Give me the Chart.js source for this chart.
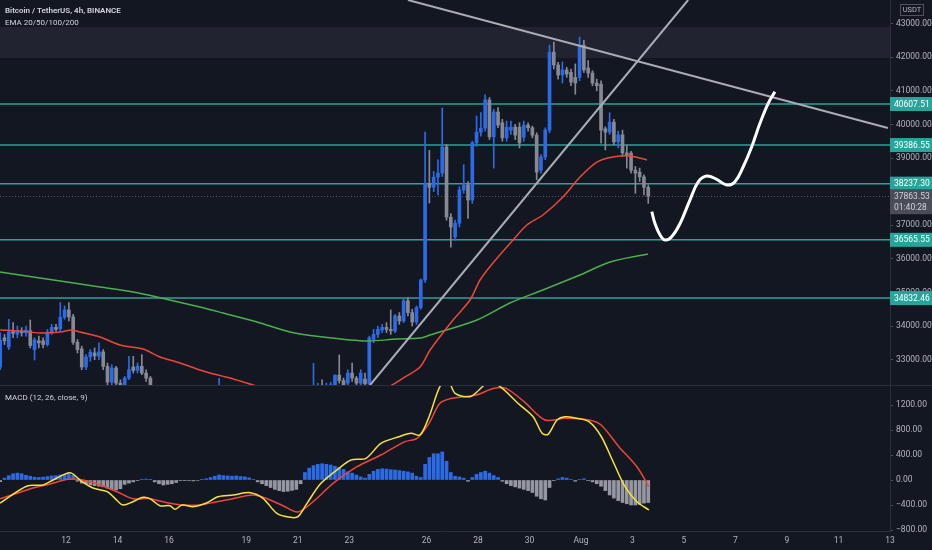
<!DOCTYPE html>
<html>
<head>
<meta charset="utf-8">
<script src="https://cdn.jsdelivr.net/npm/chart.js@4.4.0/dist/chart.umd.min.js"></script>
<style>
  html, body { margin: 0; padding: 0; background: #131722; }
  #wrap { position: relative; width: 932px; height: 550px; overflow: hidden; background: #131722;
          font-family: Roboto, "Open Sans", sans-serif; }
  canvas { position: absolute; left: 0; }
  #priceChart { top: 0; }
  #macdChart { top: 386px; }
  .sep { position: absolute; left: 0; top: 385px; width: 932px; height: 1px; background: #2a2e39; }
  .lbl { position: absolute; left: 5px; color: #d1d4dc; font-size: 8px; white-space: nowrap; line-height: 10px; }
</style>
</head>
<body>
<div id="wrap">
  <canvas id="priceChart" width="932" height="385"></canvas>
  <div class="sep"></div>
  <canvas id="macdChart" width="932" height="164"></canvas>
  <div class="lbl" style="top:6px;font-weight:600">Bitcoin / TetherUS, 4h, BINANCE</div>
  <div class="lbl" style="top:18px">EMA 20/50/100/200</div>
  <div class="lbl" style="top:393px">MACD (12, 26, close, 9)</div>
</div>
<script>
// 4h candles, first one at Jul 9 ~10:40 (x axis is "day of July", Aug 1 = 32)
var firstCandle = 9.445;
// [open, high, low, close]
var ohlc = [
  [32780,33800,32700,33580],[33650,33750,33450,33560],[33370,34200,33300,33820],[33850,34100,33650,33780],
  [33760,34000,33650,33850],[33850,33950,33700,33800],[33800,34000,33700,33880],[33860,34180,33350,33420],
  [33300,33650,32990,33590],[33560,33700,33350,33500],[33560,33650,33350,33450],[33450,33900,33400,33820],
  [33830,34050,33750,33960],[33960,34050,33850,33900],[33920,34700,33850,34260],[34260,34600,34200,34480],
  [34480,34700,34150,34270],[34270,34350,33450,33520],[33520,33600,33200,33300],[33320,33400,32700,32780],
  [32780,33150,32700,33080],[33080,33300,32950,33220],[33200,33350,33000,33110],[33100,33500,33000,33230],
  [33230,33300,32700,32800],[32800,32900,32200,32330],[32330,32850,32250,32750],[32750,32800,32150,32300],
  [32300,32400,31950,32100],[32050,32500,31950,32450],[32450,33100,32400,32700],[32780,33100,32600,32680],
  [32680,32900,32600,32800],[32800,33150,32550,32600],[32600,32700,32350,32450],[32450,32500,31950,32100],
  [32100,32200,31800,31900],[31900,32000,31600,31700],[31700,31950,31550,31800],[31800,31900,31450,31600],
  [31600,32050,31500,31750],[31750,32100,31650,31900],[31900,32000,31550,31700],[31700,31800,31200,31400],
  [31400,31650,31300,31500],[31500,31800,31400,31650],[31650,31750,31250,31450],[31450,31600,31200,31500],
  [31500,31800,31400,31650],[31650,31900,31450,31600],[31600,31950,31500,31800],[31800,32440,31700,32050],
  [32050,32150,31750,31900],[31900,32000,31600,31750],[31750,32000,31650,31850],[31850,31950,31550,31700],
  [31700,31900,31550,31750],[31750,31800,31300,31500],[31500,31600,31150,31300],[31300,31400,30900,31050],
  [31050,31200,30700,30900],[30900,31100,30750,31000],[31000,31050,30600,30800],[30800,30900,30300,30500],
  [30500,30600,29900,30200],[30200,30300,29600,29900],[29900,30000,29400,29700],[29700,30000,29300,29850],
  [29850,30100,29600,29800],[29800,30500,29700,30300],[30300,31400,30200,31200],[31200,32000,31100,31800],
  [31800,32200,31600,32000],[32000,32890,31900,32100],[32100,32300,31900,32200],[32200,32400,31800,32050],
  [32050,32300,31900,32150],[32150,32330,31950,32250],[32250,32550,32050,32540],[32540,33140,32300,32380],
  [32380,32450,32100,32250],[32300,32700,32200,32600],[32600,32900,32350,32450],[32450,32500,32150,32300],
  [32300,32700,32200,32600],[32420,32600,32150,32280],[32280,33700,32200,33650],[33600,33900,33500,33750],
  [33750,34000,33650,33900],[33880,34050,33800,33960],[33960,34100,33800,33900],[33900,34480,33750,33860],
  [33850,34350,33800,34300],[34300,34400,34050,34150],[34150,34800,34100,34750],[34750,34850,34300,34400],
  [34400,34500,34000,34120],[34120,34600,34050,34550],[34550,35400,34500,35370],[35370,39770,35300,38250],
  [38250,39230,37660,38130],[38130,38600,38000,38430],[38430,38950,37900,38550],[38550,40490,38450,39330],
  [39330,39400,37150,37240],[37240,37350,36350,36950],[36650,37150,36550,37060],[37060,38150,36950,38050],
  [38050,38800,37950,38200],[38200,38300,37200,37750],[37750,39500,37650,39450],[39450,40250,39350,39770],
  [39770,40350,39650,39890],[39890,40880,39800,40730],[40730,40800,39550,39630],[39630,40450,38700,40370],
  [40370,40500,39900,39980],[40050,40150,39500,39600],[39600,40100,39500,39920],[39830,40100,39700,39920],
  [39920,40000,39550,39680],[39920,40050,39300,39450],[39620,40100,39500,39980],[39980,40050,39800,39900],
  [39900,39950,39600,39680],[39680,39750,38350,38580],[38640,39100,38550,39030],[39030,39900,38950,39830],
  [39830,42360,39750,42150],[42150,42450,41650,41770],[41770,41850,41350,41470],[41470,41860,41230,41620],
  [41620,41700,41400,41500],[41550,41650,41150,41260],[41400,41800,40900,41230],[41400,42600,41300,42360],
  [42360,42500,41550,41620],[41680,41900,41400,41530],[41530,41600,41150,41230],[41230,41350,41000,41150],
  [41200,41300,39440,39830],[39870,39930,39240,39770],[39770,40350,39700,40070],[40070,40150,39400,39480],
  [39480,39800,39300,39690],[39690,39830,39050,39150],[39150,39380,38700,39090],[39150,39200,38550,38640],
  [38640,38750,37950,38550],[38580,38700,38300,38440],[38440,38500,37900,38130],[38130,38200,37650,37864]
];

// MACD histogram, one value per candle
var histogram = [
  -27,30,70,100,110,100,75,60,45,40,45,55,65,70,80,90,100,75,-20,-50,
  -60,-80,-90,-100,-110,-130,-150,-160,-140,-70,-50,-30,-10,10,15,5,-30,-60,-80,-70,
  -60,-40,-10,-5,-10,-15,-8,5,20,40,60,80,70,65,60,65,55,50,35,10,
  -30,-60,-90,-120,-150,-170,-185,-180,-165,-150,-60,120,190,230,250,260,250,240,220,200,
  170,130,110,80,50,30,90,140,170,180,175,165,160,150,140,130,110,60,40,250,
  360,420,420,450,300,120,60,50,30,-20,40,90,120,140,110,70,40,-20,-60,-90,
  -110,-130,-150,-170,-200,-260,-300,-320,-120,-10,20,40,30,10,-20,10,20,-10,-30,-60,
  -100,-170,-240,-290,-330,-360,-380,-400,-400,-390,-370,-360
];

// [day, value] points
var emaRed = [[9.44,33882],[10.21,33852],[10.99,33793],[11.77,33822],[12.23,33882],[12.54,33822],[13.32,33674],
  [14.10,33436],[14.99,33316],[15.65,33078],[16.43,32900],[17.20,32691],[17.59,32602],[18.37,32453],[19.26,32245],
  [20.70,31950],[22.25,31900],[23.81,32050],[24.51,32186],[25.09,32453],[25.75,32780],[26.14,33286],[27.03,34179],
  [27.69,34774],[28.08,35370],[28.58,35875],[29.36,36560],[29.90,37006],[30.52,37304],[31.30,37840],[31.96,38435],
  [32.62,38881],[33.24,39030],[33.90,39060],[34.56,38941]];
var emaGreen = [[9.44,35608],[10.72,35459],[12.04,35310],[13.32,35161],[14.60,35012],[15.53,34864],[17.20,34566],
  [18.10,34388],[19.42,34120],[20.70,33822],[21.98,33674],[23.69,33554],[24.85,33614],[25.75,33644],[26.14,33733],
  [27.96,34179],[29.24,34685],[30.52,35072],[31.96,35519],[33.13,35905],[34.60,36143]];
var macdLine = [[9.44,-368],[10.49,-96],[11.11,-80],[11.50,0],[12.16,117],[12.62,-27],[13.05,-128],[13.60,-187],
  [13.90,-293],[14.21,-400],[14.60,-347],[14.99,-277],[15.26,-299],[15.65,-411],[16.04,-411],[16.23,-469],[16.51,-400],
  [16.93,-427],[17.48,-363],[17.90,-267],[18.49,-240],[19.15,-203],[19.65,-293],[20.19,-533],[20.70,-597],[21.01,-587],
  [21.36,-373],[21.90,-53],[22.60,187],[23.07,320],[23.65,347],[24.23,587],[24.93,693],[25.40,747],[25.75,720],
  [26.10,1013],[26.52,1493],[26.83,1600],[27.11,1387],[27.69,1333],[28.04,1440],[28.39,1560],[28.86,1493],[29.55,1227],
  [30.14,1013],[30.49,747],[30.72,730],[31.07,960],[31.38,1013],[31.84,987],[32.31,933],[32.78,700],[33.24,300],
  [33.71,-107],[34.17,-347],[34.64,-480]];
var signalLine = [[9.44,-299],[10.10,-213],[10.72,-128],[11.38,-64],[12.08,11],[12.66,0],[13.32,-80],[13.98,-187],
  [14.60,-299],[15.26,-299],[15.92,-363],[16.54,-400],[17.20,-400],[17.86,-347],[18.49,-299],[19.26,-240],[19.81,-299],
  [20.43,-411],[21.01,-512],[21.67,-320],[22.37,-53],[23.30,213],[24.23,400],[25.16,613],[25.63,667],[26.10,907],
  [26.52,1227],[26.99,1307],[27.92,1360],[28.62,1467],[29.09,1467],[29.79,1253],[30.60,960],[31.38,987],[32.31,960],
  [32.78,880],[33.47,533],[34.17,213],[34.64,-107]];

// drawings
var resistanceLine = [[25.28,43703],[43.92,39893]];
var supportLine = [[23.81,32245],[36.16,43703]];
var projection = [[34.75,37402],[34.87,37057],[35.07,36709],[35.26,36560],[35.52,36658],[35.85,37057],[36.23,37750],
  [36.56,38295],[36.88,38465],[37.27,38367],[37.66,38197],[37.98,38295],[38.30,38741],[38.63,39337],[38.95,40033],
  [39.27,40628],[39.53,40974]];
var levels = [40607.51, 39386.55, 38237.30, 36565.55, 34832.46];
var zone = [41976, 42900];
var lastPrice = 37863.53;
var countdown = '01:40:28';

var priceTicks = [33000,34000,35000,36000,37000,38000,39000,40000,41000,42000,43000];
var macdTicks = [-800,-400,0,400,800,1200];
var dateTicks = [12,14,16,19,21,23,26,28,30,32,34,36,38,40,42,44];
var dateLabels = ['12','14','16','19','21','23','26','28','30','Aug','3','5','7','9','11','13'];

var UP = '#2d6be6', DOWN = '#868993', TEAL = '#26a69a';
var FONT = 'Roboto, "Open Sans", sans-serif';
var xMin = 9.437, xMax = 44;

var candleTimes = ohlc.map(function (c, i) { return firstCandle + i / 6; });
var candleColors = ohlc.map(function (c) { return c[3] >= c[0] ? UP : DOWN; });
function pts(arr) { return arr.map(function (p) { return {x: p[0], y: p[1]}; }); }

function noPad(s) { s.paddingTop = 0; s.paddingBottom = 0; s.paddingLeft = 0; s.paddingRight = 0; }

function yAxis(min, max, tickValues, fmt) {
  return {
    position: 'right', min: min, max: max,
    afterBuildTicks: function (s) { s.ticks = tickValues.map(function (v) { return {value: v}; }); },
    afterFit: function (s) { s.width = 42; noPad(s); },
    ticks: {color: '#b2b5be', font: {family: FONT, size: 8.5}, padding: 3, autoSkip: false, callback: fmt},
    grid: {drawOnChartArea: false, drawTicks: true, tickLength: 3, color: '#50535e'},
    border: {display: true, color: '#2a2e39'}
  };
}

var pricePane = {
  id: 'pricePane',
  beforeDatasetsDraw: function (chart) {
    var ctx = chart.ctx, a = chart.chartArea, y = chart.scales.y;
    ctx.save();
    ctx.fillStyle = 'rgba(120,123,134,0.14)';
    var zt = y.getPixelForValue(zone[1]), zb = y.getPixelForValue(zone[0]);
    ctx.fillRect(a.left, zt, a.right - a.left, zb - zt);
    ctx.strokeStyle = TEAL;
    ctx.lineWidth = 1.5;
    levels.forEach(function (v) {
      var py = y.getPixelForValue(v);
      ctx.beginPath(); ctx.moveTo(a.left, py); ctx.lineTo(a.right, py); ctx.stroke();
    });
    ctx.setLineDash([1, 2]);
    ctx.lineWidth = 1;
    ctx.strokeStyle = 'rgba(134,137,147,0.55)';
    var lp = Math.round(y.getPixelForValue(lastPrice)) + 0.5;
    ctx.beginPath(); ctx.moveTo(a.left, lp); ctx.lineTo(a.right, lp); ctx.stroke();
    ctx.restore();
  },
  afterDraw: function (chart) {
    var ctx = chart.ctx, a = chart.chartArea, y = chart.scales.y;
    ctx.save();
    ctx.font = '8.5px ' + FONT;
    ctx.textBaseline = 'middle';
    levels.forEach(function (v) {
      var py = y.getPixelForValue(v);
      ctx.fillStyle = TEAL;
      ctx.fillRect(a.right, py - 7, 42, 14);
      ctx.fillStyle = '#ffffff';
      ctx.fillText(v.toFixed(2), a.right + 4, py + 0.5);
    });
    var lp = y.getPixelForValue(lastPrice);
    ctx.fillStyle = '#4a4d57';
    ctx.fillRect(a.right, lp - 7, 42, 25);
    ctx.fillStyle = '#d1d4dc';
    ctx.fillText(lastPrice.toFixed(2), a.right + 4, lp + 0.5);
    ctx.fillText(countdown, a.right + 4, lp + 11.5);
    ctx.strokeStyle = '#50535e';
    ctx.lineWidth = 1;
    ctx.strokeRect(a.right + 10.5, 4.5, 23, 11);
    ctx.font = '7.5px ' + FONT;
    ctx.textAlign = 'center';
    ctx.fillStyle = '#b2b5be';
    ctx.fillText('USDT', a.right + 22, 10.5);
    ctx.restore();
  }
};

new Chart(document.getElementById('priceChart'), {
  type: 'bar',
  data: {
    datasets: [
      {type: 'line', data: pts(projection), borderColor: '#ffffff', borderWidth: 3, pointRadius: 0,
       tension: 0.4, order: 0},
      {type: 'line', data: pts(resistanceLine), borderColor: '#a9acb5', borderWidth: 2, pointRadius: 0, order: 1},
      {type: 'line', data: pts(supportLine), borderColor: '#a9acb5', borderWidth: 2, pointRadius: 0, order: 1},
      {type: 'line', data: pts(emaRed), borderColor: '#f0453a', borderWidth: 1.5, pointRadius: 0,
       tension: 0.3, order: 2},
      {type: 'line', data: pts(emaGreen), borderColor: '#4caf50', borderWidth: 1.5, pointRadius: 0,
       tension: 0.3, order: 2},
      {data: ohlc.map(function (c, i) { return {x: candleTimes[i], y: [c[0], c[3]]}; }),
       backgroundColor: candleColors, barThickness: 3, minBarLength: 1, grouped: false, order: 3},
      {data: ohlc.map(function (c, i) { return {x: candleTimes[i], y: [c[2], c[1]]}; }),
       backgroundColor: candleColors, barThickness: 1, grouped: false, order: 4}
    ]
  },
  options: {
    responsive: false, animation: false, devicePixelRatio: 1,
    layout: {padding: 0},
    plugins: {legend: {display: false}, tooltip: {enabled: false}},
    scales: {
      x: {type: 'linear', min: xMin, max: xMax, offset: false, display: false},
      y: yAxis(32245, 43703, priceTicks, function (v) { return v.toFixed(2); })
    }
  },
  plugins: [pricePane]
});

new Chart(document.getElementById('macdChart'), {
  type: 'bar',
  data: {
    datasets: [
      {type: 'line', data: pts(macdLine), borderColor: '#f7e33d', borderWidth: 1.5, pointRadius: 0,
       tension: 0.3, order: 0},
      {type: 'line', data: pts(signalLine), borderColor: '#f0453a', borderWidth: 1.5, pointRadius: 0,
       tension: 0.3, order: 1},
      {data: histogram.map(function (v, i) { return {x: candleTimes[i], y: v}; }),
       backgroundColor: histogram.map(function (v) { return v >= 0 ? UP : '#9598a1'; }),
       barThickness: 3, grouped: false, order: 2}
    ]
  },
  options: {
    responsive: false, animation: false, devicePixelRatio: 1,
    layout: {padding: 0},
    plugins: {legend: {display: false}, tooltip: {enabled: false}},
    scales: {
      x: {
        type: 'linear', min: xMin, max: xMax, offset: false, position: 'bottom',
        afterBuildTicks: function (s) { s.ticks = dateTicks.map(function (v) { return {value: v}; }); },
        afterFit: function (s) { s.height = 19; noPad(s); },
        ticks: {color: '#b2b5be', font: {family: FONT, size: 8.5}, padding: 5, maxRotation: 0, autoSkip: false,
                callback: function (v, i) { return dateLabels[i]; }},
        grid: {drawOnChartArea: false, drawTicks: false},
        border: {display: true, color: '#2a2e39'}
      },
      y: yAxis(-816, 1504, macdTicks, function (v) { return (v < 0 ? '\u2212' : '') + Math.abs(v).toFixed(2); })
    }
  }
});
</script>
</body>
</html>
